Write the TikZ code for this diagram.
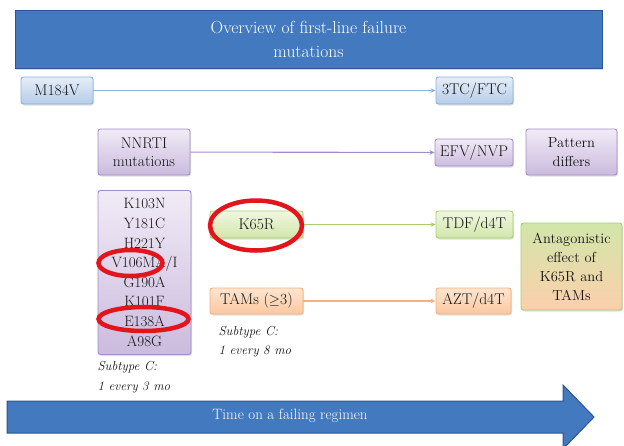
\documentclass[tikz,border=0pt]{standalone}
\usepackage{amsmath,amssymb}
\usepackage{tikz}
\usetikzlibrary{positioning,shapes.geometric,shadows,arrows.meta}

\definecolor{titleblue}{HTML}{4279BF}
\definecolor{titleedge}{HTML}{2C5491}
\definecolor{bluetop}{HTML}{E6EEF8}
\definecolor{bluebot}{HTML}{B5CCE8}
\definecolor{blueedge}{HTML}{8DB0DC}
\definecolor{purpletop}{HTML}{F1EBF6}
\definecolor{purplebot}{HTML}{CBBBDE}
\definecolor{purpleedge}{HTML}{A38FC6}
\definecolor{greentop}{HTML}{F1F7E3}
\definecolor{greenbot}{HTML}{D2E6A9}
\definecolor{greenedge}{HTML}{AACD6C}
\definecolor{orangetop}{HTML}{FDE5D1}
\definecolor{orangebot}{HTML}{FBC8A0}
\definecolor{orangeedge}{HTML}{F7B07A}
\definecolor{ringred}{HTML}{E3141B}

\begin{document}
\begin{tikzpicture}[x=1pt, y=-1pt, >=Stealth,
    every node/.style={font=\fontsize{15.5}{18}\selectfont, text=black!92},
    box/.style={rounded corners=2.5pt, line width=0.9pt, align=center, inner sep=1pt,
        drop shadow={opacity=0.25, shadow xshift=1pt, shadow yshift=-1.5pt}},
    bluebox/.style={box, draw=blueedge, top color=bluetop, bottom color=bluebot},
    purplebox/.style={box, draw=purpleedge, top color=purpletop, bottom color=purplebot},
    greenbox/.style={box, draw=greenedge, top color=greentop, bottom color=greenbot},
    orangebox/.style={box, draw=orangeedge, top color=orangetop, bottom color=orangebot},
    link/.style={-{Stealth[length=5pt, width=4.5pt]}, line width=1.1pt},
    ring/.style={ellipse, draw=ringred, line width=4.5pt, inner sep=0pt},
    note/.style={anchor=west, align=left, font=\fontsize{13}{19.5}\selectfont\itshape}]

    \useasboundingbox (0,0) rectangle (624,445);

    % Title banner
    \node[fill=titleblue, draw=titleedge, line width=1pt, minimum width=587pt, minimum height=58pt,
        align=center, text=white, font=\fontsize{17.5}{24}\selectfont,
        drop shadow={opacity=0.25, shadow xshift=1pt, shadow yshift=-1.5pt}] (title) at (308.5,39) {
        Overview of first-line failure\\
        mutations
    };

    % Row 1: M184V
    \node[bluebox, minimum width=72pt, minimum height=27pt] (m184v) at (57,90.5) {M184V};
    \node[bluebox, minimum width=77pt, minimum height=27pt] (tcftc) at (474.5,90.5) {3TC/FTC};
    \draw[link, draw=blueedge] (m184v) -- (tcftc);

    % Row 2: NNRTI
    \node[purplebox, minimum width=92pt, minimum height=46pt] (nnrti) at (144,152) {
        NNRTI\\
        mutations
    };
    \node[purplebox, minimum width=78pt, minimum height=27pt] (efvnvp) at (474,152.5) {EFV/NVP};
    \node[purplebox, minimum width=91pt, minimum height=46pt, font=\fontsize{14.5}{19}\selectfont] (pattern) at (571.5,152) {
        Pattern\\
        differs
    };
    \draw[link, draw=purpleedge] (nnrti) -- (efvnvp);

    % NNRTI mutation list
    \node[purplebox, minimum width=93pt, minimum height=164pt, font=\fontsize{15}{19.6}\selectfont] (nnrtilist) at (144.5,272.5) {
        K103N\\ Y181C\\ H221Y\\ V106MA/I\\ G190A\\ K101F\\ E138A\\ A98G
    };
    \node[note] (sub3) at (94,377) {Subtype C:\\ 1 every 3 mo};

    % Row 3: K65R
    \node[greenbox, minimum width=93pt, minimum height=27pt] (k65r) at (256.5,224.5) {K65R};
    \node[greenbox, minimum width=77pt, minimum height=27pt] (tdfd4t) at (474.5,224.5) {TDF/d4T};
    \draw[link, draw=greenedge] (k65r) -- (tdfd4t);

    % Row 4: TAMs
    \node[orangebox, minimum width=93pt, minimum height=26pt] (tams) at (256.5,301) {TAMs ($\geq$3)};
    \node[orangebox, minimum width=75pt, minimum height=26pt] (aztd4t) at (473.5,301) {AZT/d4T};
    \draw[link, draw=orangeedge] (tams) -- (aztd4t);
    \node[note] (sub8) at (215,341.5) {Subtype C:\\ 1 every 8 mo};

    % Antagonism box
    \node[box, draw=greenedge, top color=greenbot, middle color=greenbot!50!orangebot,
        bottom color=orangebot!75!orangetop, minimum width=101pt, minimum height=87pt,
        font=\fontsize{14.5}{19}\selectfont] (antag) at (571.5,266.5) {
        Antagonistic\\ effect of\\ K65R and\\ TAMs
    };

    % Red rings
    \node[ring, minimum width=92pt, minimum height=50pt] (ringk65r) at (256,225.5) {};
    \node[ring, minimum width=64pt, minimum height=26pt] (ringv106) at (130.5,263) {};
    \node[ring, minimum width=90pt, minimum height=24pt] (ringe138) at (143.5,319) {};

    % Time arrow
    \draw[fill=titleblue, draw=titleedge, line width=1pt]
        (7,401) -- (563,401) -- (563,385) -- (594,417) -- (563,449) -- (563,433) -- (7,433) -- cycle;
    \node[text=white, font=\fontsize{15}{18}\selectfont] (timetext) at (290,416) {Time on a failing regimen};
\end{tikzpicture}
\end{document}
